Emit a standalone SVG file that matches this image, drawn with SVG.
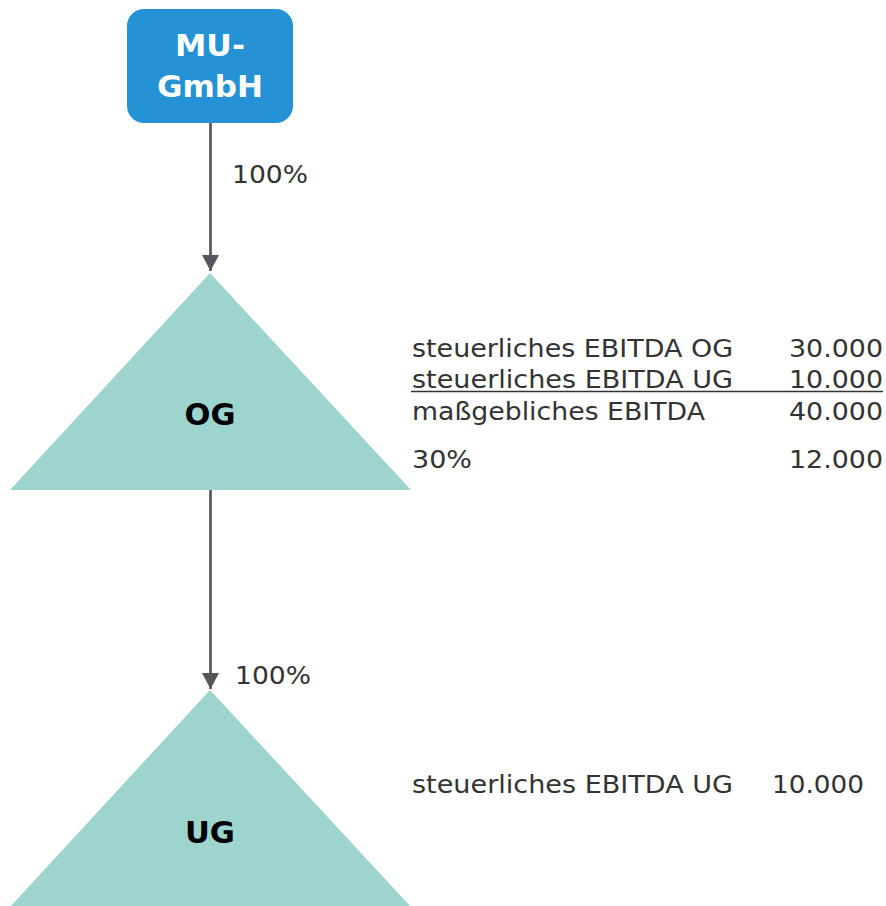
<svg xmlns="http://www.w3.org/2000/svg" width="886" height="906" viewBox="0 0 886 906">
<style>
.lbl{font-family:"DejaVu Sans",Verdana,sans-serif;font-size:25px;fill:#333333}
.pct{font-family:"DejaVu Sans",Verdana,sans-serif;font-size:25px;fill:#333333}
.bold{font-family:"DejaVu Sans",Verdana,sans-serif;font-weight:bold;text-anchor:middle}
.tri{fill:#9dd4ce}
.conn{stroke:#55575c;stroke-width:2.7;fill:none}
</style>
<defs>
<marker id="arr" markerUnits="userSpaceOnUse" markerWidth="18" markerHeight="18" refX="16" refY="8.5" orient="auto">
<path d="M0,0 L16,8.5 L0,17 Z" fill="#55575c"/>
</marker>
</defs>
<rect width="886" height="906" fill="#ffffff"/>
<g id="connectors">
<line class="conn" x1="210.5" y1="123" x2="210.5" y2="271" marker-end="url(#arr)"/>
<line class="conn" x1="210.5" y1="490" x2="210.5" y2="689" marker-end="url(#arr)"/>
<text class="pct" x="232" y="183" textLength="76" lengthAdjust="spacingAndGlyphs">100%</text>
<text class="pct" x="235" y="684" textLength="76" lengthAdjust="spacingAndGlyphs">100%</text>
</g>
<g id="mu-gmbh">
<rect x="127" y="9" width="166" height="114" rx="17" fill="#2492d4"/>
<text class="bold" x="210" y="56" font-size="31" fill="#ffffff" textLength="70" lengthAdjust="spacingAndGlyphs">MU-</text>
<text class="bold" x="210" y="97" font-size="31" fill="#ffffff" textLength="106" lengthAdjust="spacingAndGlyphs">GmbH</text>
</g>
<g id="og">
<polygon class="tri" points="210,273 411,490 10,490"/>
<text class="bold" x="210" y="425" font-size="30" fill="#000000" textLength="51" lengthAdjust="spacingAndGlyphs">OG</text>
</g>
<g id="ug">
<polygon class="tri" points="210,690 411,907 10,907"/>
<text class="bold" x="210" y="843" font-size="30" fill="#000000" textLength="50" lengthAdjust="spacingAndGlyphs">UG</text>
</g>
<g id="og-table">
<text class="lbl" x="412" y="357" textLength="321" lengthAdjust="spacingAndGlyphs">steuerliches EBITDA OG</text>
<text class="lbl" x="789" y="357" textLength="94" lengthAdjust="spacingAndGlyphs">30.000</text>
<text class="lbl" x="412" y="388" textLength="321" lengthAdjust="spacingAndGlyphs">steuerliches EBITDA UG</text>
<text class="lbl" x="789" y="388" textLength="94" lengthAdjust="spacingAndGlyphs">10.000</text>
<line x1="411" y1="391.5" x2="883" y2="391.5" stroke="#333333" stroke-width="1.5"/>
<text class="lbl" x="412" y="420" textLength="293" lengthAdjust="spacingAndGlyphs">maßgebliches EBITDA</text>
<text class="lbl" x="789" y="420" textLength="94" lengthAdjust="spacingAndGlyphs">40.000</text>
<text class="lbl" x="412" y="468" textLength="60" lengthAdjust="spacingAndGlyphs">30%</text>
<text class="lbl" x="789" y="468" textLength="94" lengthAdjust="spacingAndGlyphs">12.000</text>
</g>
<g id="ug-table">
<text class="lbl" x="412" y="793" textLength="321" lengthAdjust="spacingAndGlyphs">steuerliches EBITDA UG</text>
<text class="lbl" x="772" y="793" textLength="92" lengthAdjust="spacingAndGlyphs">10.000</text>
</g>
</svg>
